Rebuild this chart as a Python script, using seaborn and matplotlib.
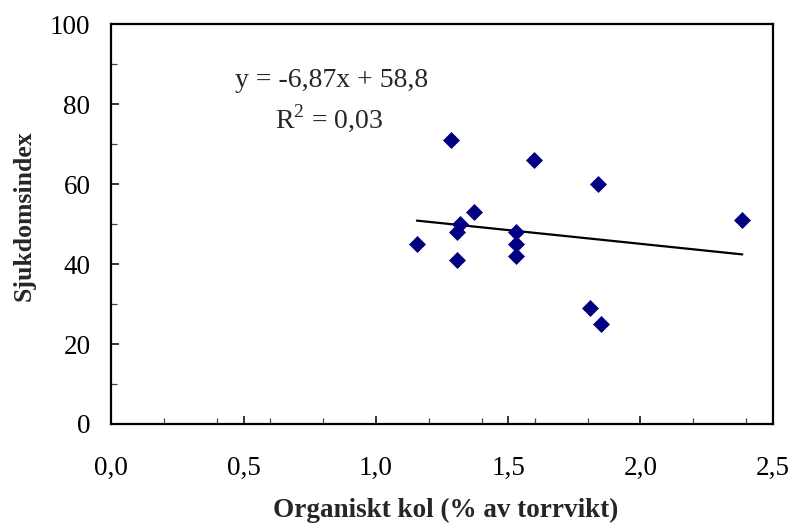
import numpy as np
import pandas as pd
import matplotlib
matplotlib.use("Agg")
import matplotlib.pyplot as plt
import seaborn as sns
from matplotlib.ticker import MultipleLocator, FuncFormatter

# Data
org_kol = [1.285, 1.597, 1.841, 2.385, 1.369, 1.317, 1.307, 1.155, 1.307,
           1.528, 1.528, 1.528, 1.809, 1.851]
sjukdom = [71, 66, 60, 51, 53, 50, 48, 45, 41, 48, 45, 42, 29, 25]
slope = -6.87
intercept = 58.8
r2 = 0.03

sns.set_theme(style="white")
plt.rcParams['font.family'] = ['Liberation Serif', 'DejaVu Serif']
plt.rcParams['mathtext.fontset'] = 'custom'
plt.rcParams['mathtext.rm'] = 'Liberation Serif'

fig = plt.figure(figsize=(7.95, 5.26), dpi=100)
ax = fig.add_axes([0.140, 0.194, 0.832, 0.760])

df = pd.DataFrame({"x": org_kol, "y": sjukdom})
sns.scatterplot(data=df, x="x", y="y", marker="D", color="#000080",
                s=75, linewidth=0, ax=ax, zorder=3)

xs = np.array([min(org_kol), max(org_kol)])
trend = pd.DataFrame({"x": xs, "y": slope * xs + intercept})
sns.lineplot(data=trend, x="x", y="y", color="black", linewidth=1.6, ax=ax, zorder=2)

ax.set_xlim(0, 2.5)
ax.set_ylim(0, 100)
ax.xaxis.set_major_locator(MultipleLocator(0.5))
ax.xaxis.set_minor_locator(MultipleLocator(0.2))
ax.yaxis.set_major_locator(MultipleLocator(20))
ax.yaxis.set_minor_locator(MultipleLocator(10))
ax.xaxis.set_major_formatter(FuncFormatter(lambda v, p: f"{v:.1f}".replace(".", ",")))
ax.yaxis.set_major_formatter(FuncFormatter(lambda v, p: f"{v:.0f}"))

ax.tick_params(axis="both", which="major", direction="in", length=6, width=1.1,
               colors="black", labelsize=19.5)
ax.tick_params(axis="both", which="minor", direction="in", length=4, width=0.9,
               colors="#444444")
ax.tick_params(axis="x", which="major", pad=23)
ax.tick_params(axis="y", which="major", pad=15)
ax.tick_params(axis="both", which="both", bottom=True, left=True, top=False, right=False)

for sp in ax.spines.values():
    sp.set_color("black")
    sp.set_linewidth(1.6)

ax.set_xlabel("Organiskt kol (% av torrvikt)", fontsize=19.5, fontweight="bold", va="center")
ax.xaxis.set_label_coords(0.505, -0.2175)
ax.set_ylabel("Sjukdomsindex", fontsize=18.5, fontweight="bold", va="center")
ax.yaxis.set_label_coords(-0.132, 0.52)

eq = f"y = {slope:.2f}x + {intercept:.1f}".replace(".", ",")
ax.text(0.832, 86.0, eq, fontsize=20, ha="center", va="center")
ax.text(0.824, 76.6, r"R$^{2}$ = " + f"{r2:.2f}".replace(".", ","), fontsize=20,
        ha="center", va="center")

fig.savefig("out.png", dpi=100)
